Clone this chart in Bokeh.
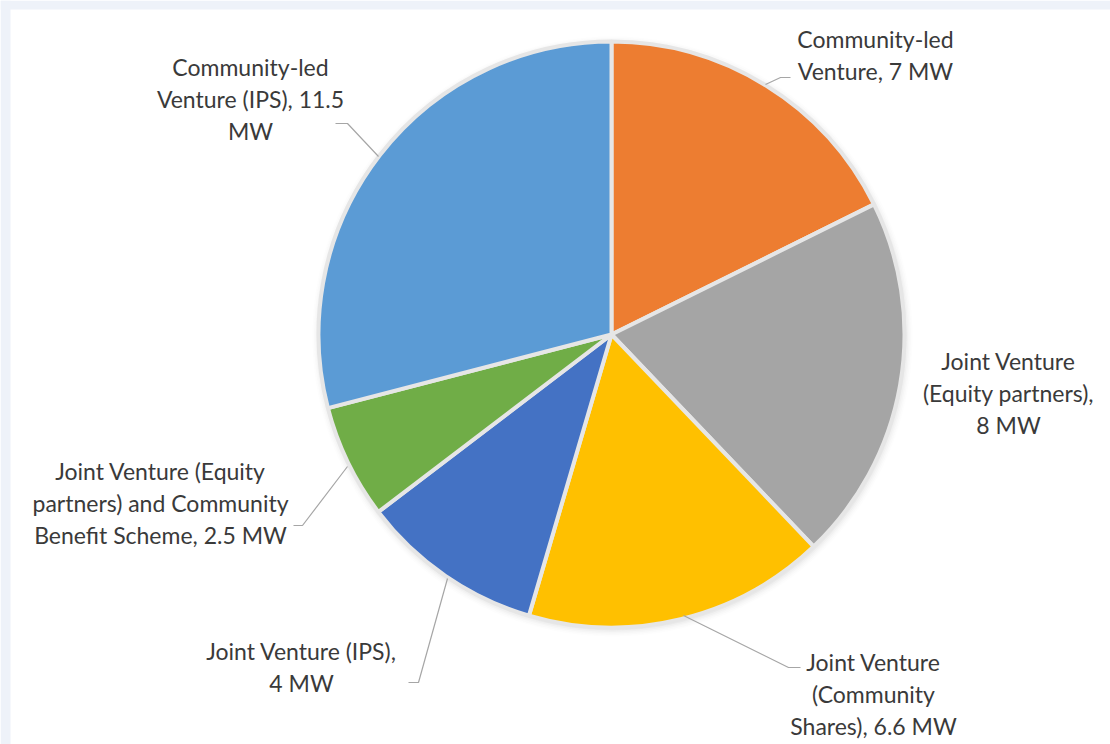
import numpy as np
from bokeh.plotting import figure
from bokeh.models import Range1d
from bokeh.core.properties import value
from bokeh.embed import file_html
from bokeh.resources import INLINE

# ---------------- data ----------------
categories = [
    "Community-led Venture",
    "Joint Venture (Equity partners)",
    "Joint Venture (Community Shares)",
    "Joint Venture (IPS)",
    "Joint Venture (Equity partners) and Community Benefit Scheme",
    "Community-led Venture (IPS)",
]
values_mw = [7, 8, 6.6, 4, 2.5, 11.5]
colors = ["#ED7D31", "#A5A5A5", "#FFC000", "#4472C4", "#70AD47", "#5B9BD5"]
label_lines = [
    ["Community-led", "Venture, 7 MW"],
    ["Joint Venture", "(Equity partners),", "8 MW"],
    ["Joint Venture", "(Community", "Shares), 6.6 MW"],
    ["Joint Venture (IPS),", "4 MW"],
    ["Joint Venture (Equity", "partners) and Community", "Benefit Scheme, 2.5 MW"],
    ["Community-led", "Venture (IPS), 11.5", "MW"],
]

# ---------------- layout (pixel coords, y down) ----------------
W, H = 1110, 744
CX, CY, R = 611, 334, 293
label_pos = [(875, 38), (1008, 360), (873, 661), (301, 650), (160, 470), (250, 66)]
line_gap = 32
leaders = [
    [(790, 77), (780, 77), (765, 84)],
    None,
    [(800, 667), (788, 667), (683, 615)],
    [(408, 682), (418, 682), (447, 578)],
    [(293, 525), (302, 525), (347, 466)],
    [(335, 123), (347, 123), (378, 156)],
]


def fy(py):
    return H - py


p = figure(width=W, height=H, output_backend="svg", toolbar_location=None,
           x_range=Range1d(0, W), y_range=Range1d(0, H), min_border=0,
           background_fill_color="white", border_fill_color="white",
           outline_line_color=None)
p.axis.visible = False
p.grid.visible = False

# page background bands
p.quad(left=[0, 0], right=[W, 10], bottom=[fy(9), 0], top=[H, H],
       fill_color="#eef2f9", line_color=None)

# soft shadow around pie
for i, a in enumerate([0.05, 0.04, 0.03, 0.02, 0.015]):
    p.circle(x=[CX + 1], y=[fy(CY + 2)], radius=R + 1 + i * 1.5,
             fill_color="#7f7f7f", fill_alpha=a, line_color=None)

# wedges
vals = np.array(values_mw, dtype=float)
frac = vals / vals.sum()
cum_end = np.cumsum(frac)
cum_start = cum_end - frac
start_angle = np.pi / 2 - cum_end * 2 * np.pi
end_angle = np.pi / 2 - cum_start * 2 * np.pi
p.wedge(x=CX, y=fy(CY), radius=R, start_angle=list(start_angle),
        end_angle=list(end_angle), fill_color=colors,
        line_color="#e6e6e6", line_width=4)

# leader lines
for pts in leaders:
    if pts is None:
        continue
    p.line([q[0] for q in pts], [fy(q[1]) for q in pts],
           line_color="#a6a6a6", line_width=1.2)

# labels
for lines, (lx, ly) in zip(label_lines, label_pos):
    xs = [lx] * len(lines)
    ys = [fy(ly + i * line_gap) for i in range(len(lines))]
    p.text(x=xs, y=ys, text=lines, text_align="center", text_baseline="middle",
           text_font=value("Lato"), text_font_size="23px", text_color="#3a3a3a")

open("out.html", "w").write(file_html(p, INLINE))
